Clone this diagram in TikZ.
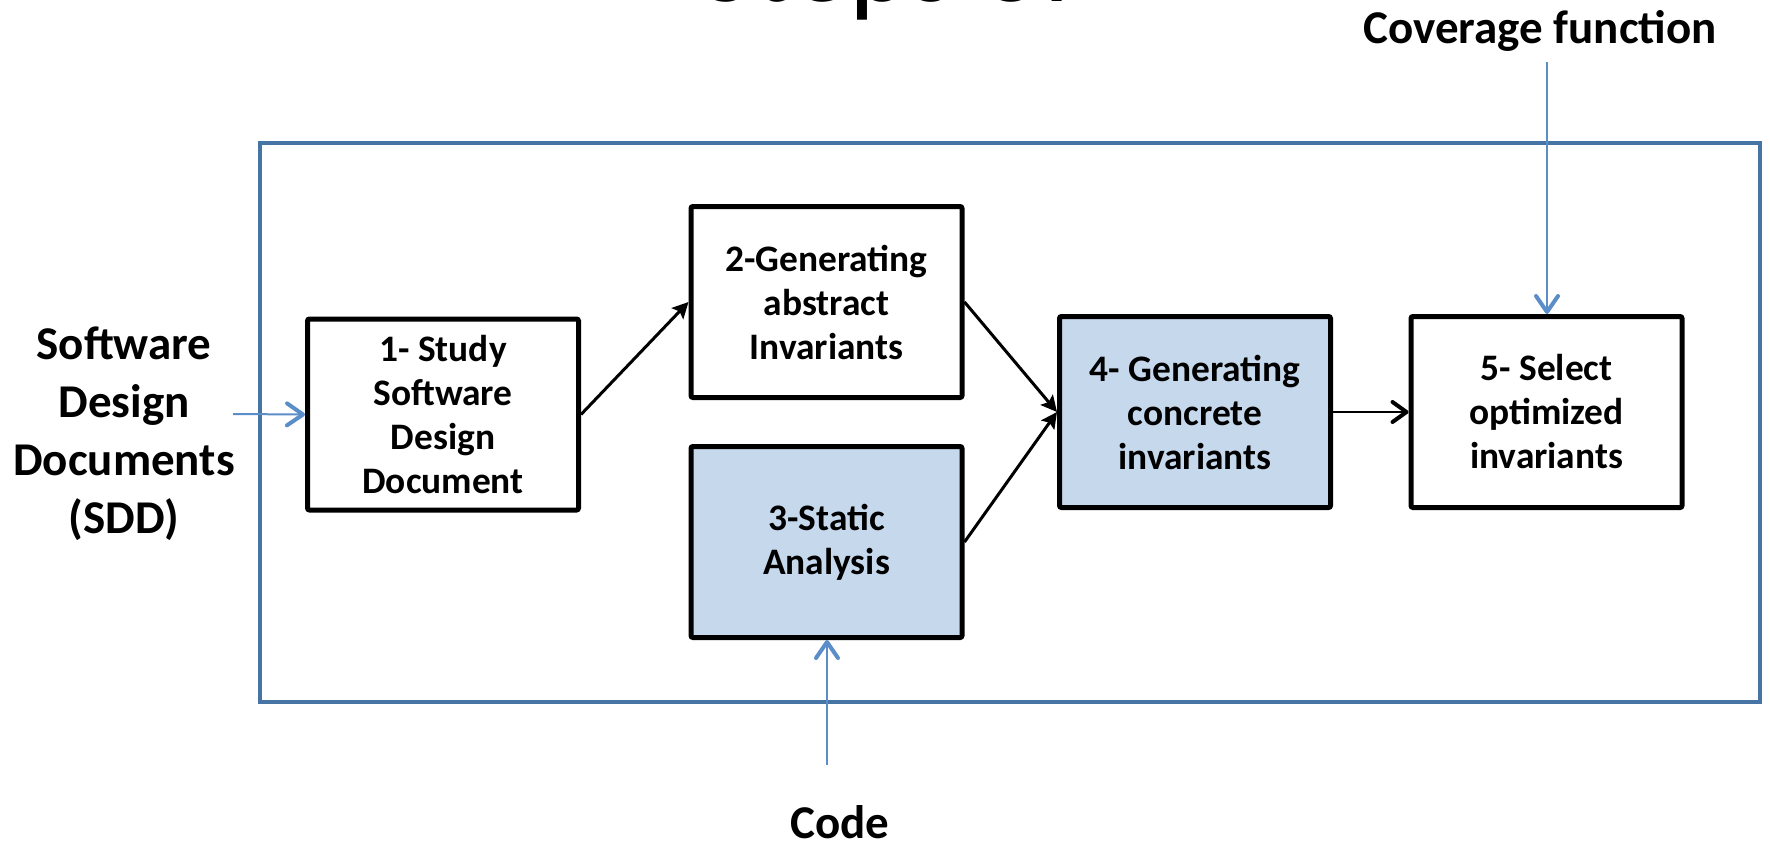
\documentclass[tikz,border=0pt]{standalone}
\usepackage{fontspec}
\setmainfont{Carlito}
\usetikzlibrary{arrows.meta}
\definecolor{framecol}{HTML}{4674A5}
\definecolor{flowblue}{HTML}{5B8DC9}
\definecolor{stepfill}{HTML}{C6D8EC}
\tikzset{
  stepbox/.style={draw=black, line width=2.5pt, rounded corners=1pt,
    minimum width=135.5pt, minimum height=95.5pt, inner sep=0pt,
    align=center, fill=white, font=\fontsize{18.7}{22}\selectfont\bfseries},
  shadedbox/.style={stepbox, fill=stepfill},
  inputlabel/.style={font=\fontsize{23.5}{29}\selectfont\bfseries, align=center, inner sep=0pt},
  inputarrow/.style={draw=flowblue, line width=1pt,
    -{Straight Barb[length=8pt,width=11pt,line width=2pt,round]}},
  flowarrow/.style={draw=black, line width=1.5pt,
    -{Stealth[length=8pt,width=8pt,inset=1.5pt]}},
  passarrow/.style={draw=black, line width=1.2pt,
    -{Straight Barb[length=7pt,width=10pt,line width=2pt,round]}},
}
\begin{document}
\begin{tikzpicture}[x=0.5pt,y=-0.5pt]
\useasboundingbox (0,0) rectangle (1770,847);
\clip (0,0) rectangle (1770,847);
\fill[white] (0,0) rectangle (1770,847);

% slide title, running off the top edge
\node[anchor=base west, inner sep=0pt, font=\fontsize{58}{70}\selectfont] (title) at (700,1) {Steps of};

% process frame
\draw[framecol, line width=2pt] (260,143) rectangle (1760,702);

% steps
\node[stepbox] (b1) at (443,414.5) {1- Study\\Software\\Design\\Document};
\node[stepbox] (b2) at (826.5,302) {2-Generating\\abstract\\Invariants};
\node[shadedbox] (b3) at (826.5,542) {3-Static\\Analysis};
\node[shadedbox] (b4) at (1195,412) {4- Generating\\concrete\\invariants};
\node[stepbox] (b5) at (1546.5,412) {5- Select\\optimized\\invariants};

% inputs
\node[inputlabel] (sdd) at (124,434) {Software\\Design\\Documents\\(SDD)};
\node[inputlabel, anchor=base] (cov) at (1540,43) {Coverage function};
\node[inputlabel, anchor=base] (code) at (840,838) {Code};

\coordinate (sddin) at (233,414);
\coordinate (covin) at (1547,62);
\coordinate (codein) at (827,765);

\draw[inputarrow] (sddin) -- (b1.west);
\draw[inputarrow] (covin) -- (covin |- b5.north);
\draw[inputarrow] (codein) -- (codein |- b3.south);

% flow between steps
\draw[flowarrow] (b1.east) -- (b2.west);
\draw[flowarrow] (b2.east) -- (b4.west);
\draw[flowarrow] (b3.east) -- (b4.west);
\draw[passarrow] (b4.east) -- (b5.west);
\end{tikzpicture}
\end{document}
